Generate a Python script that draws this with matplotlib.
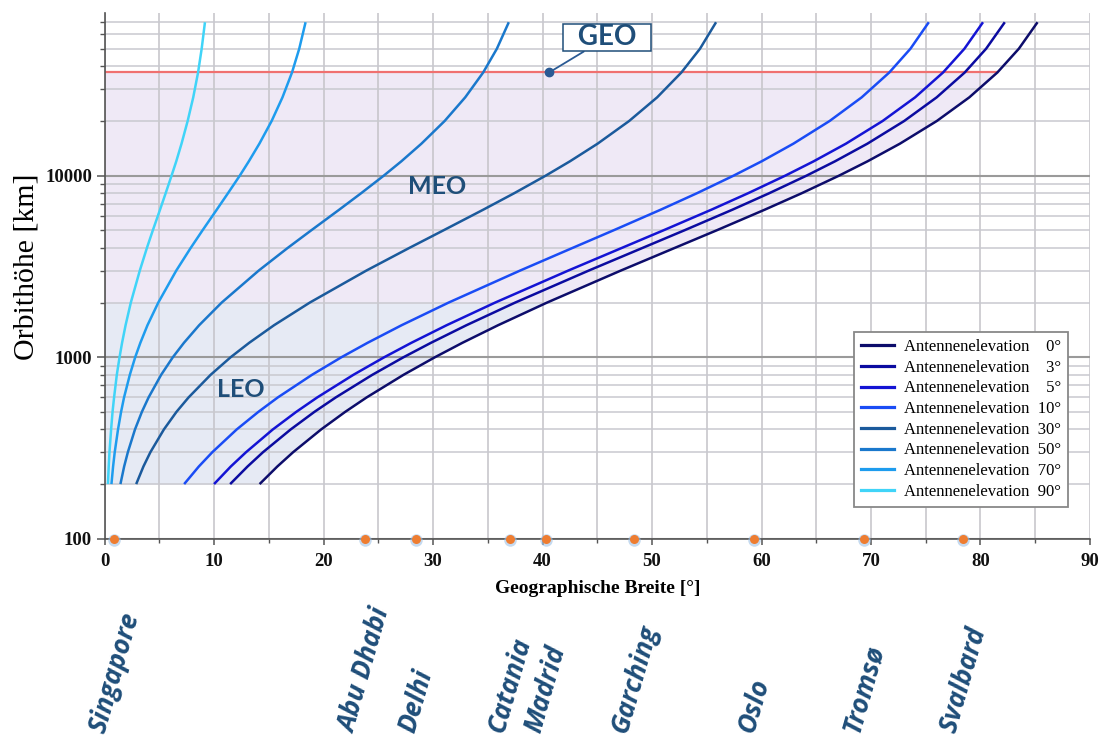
import numpy as np
import matplotlib
matplotlib.use('Agg')
import matplotlib.pyplot as plt
from matplotlib.lines import Line2D
from matplotlib import transforms
from matplotlib.ticker import MultipleLocator, LogLocator, NullFormatter

# orbit altitude [km] and the latitude reached for each antenna elevation
alt_km = [200, 250, 300, 400, 500, 600, 800, 1000, 1200, 1500, 2000, 3000, 4000, 5000,
          6500, 8000, 10000, 12000, 15000, 20000, 27000, 37000, 50000, 70000]
geo_km = 37000
leo_top = 2000

lat_el0  = [14.16, 15.78, 17.23, 19.78, 21.98, 23.93, 27.31, 30.18, 32.68, 35.94, 40.42, 47.15,
            52.08, 55.91, 60.31, 63.67, 67.08, 69.69, 72.64, 76.01, 78.98, 81.54, 83.50, 85.21]
lat_el3  = [11.47, 13.06, 14.48, 17.00, 19.17, 21.11, 24.46, 27.31, 29.81, 33.05, 37.51, 44.22,
            49.14, 52.96, 57.36, 60.70, 64.11, 66.72, 69.67, 73.03, 76.00, 78.56, 80.51, 82.22]
lat_el5  = [10.00, 11.53, 12.93, 15.37, 17.51, 19.42, 22.73, 25.55, 28.02, 31.24, 35.68, 42.35,
            47.25, 51.05, 55.44, 58.77, 62.17, 64.77, 67.71, 71.06, 74.03, 76.58, 78.53, 80.23]
lat_el10 = [7.27, 8.61, 9.85, 12.07, 14.05, 15.82, 18.95, 21.64, 24.02, 27.13, 31.43, 37.95,
            42.75, 46.49, 50.81, 54.10, 57.45, 60.02, 62.91, 66.22, 69.15, 71.67, 73.60, 75.28]
lat_el30 = [2.89, 3.55, 4.19, 5.42, 6.57, 7.67, 9.69, 11.52, 13.21, 15.48, 18.75, 23.91,
            27.84, 30.96, 34.60, 37.41, 40.29, 42.51, 45.03, 47.91, 50.47, 52.68, 54.38, 55.85]
lat_el50 = [1.45, 1.79, 2.13, 2.78, 3.41, 4.02, 5.17, 6.24, 7.25, 8.64, 10.70, 14.08,
            16.73, 18.88, 21.44, 23.43, 25.50, 27.11, 28.94, 31.06, 32.94, 34.58, 35.83, 36.92]
lat_el70 = [0.63, 0.78, 0.93, 1.23, 1.51, 1.78, 2.31, 2.80, 3.27, 3.92, 4.91, 6.55,
            7.87, 8.95, 10.25, 11.27, 12.35, 13.18, 14.14, 15.26, 16.25, 17.12, 17.78, 18.36]
lat_el90 = [0.31, 0.38, 0.45, 0.60, 0.73, 0.87, 1.12, 1.37, 1.60, 1.92, 2.40, 3.22,
            3.87, 4.41, 5.07, 5.58, 6.12, 6.55, 7.03, 7.59, 8.10, 8.54, 8.87, 9.17]

elevations = [0, 3, 5, 10, 30, 50, 70, 90]
curves = [lat_el0, lat_el3, lat_el5, lat_el10, lat_el30, lat_el50, lat_el70, lat_el90]
colors = ['#0d0d6b', '#0b0ba0', '#1414d4', '#1a4cf5', '#1b5a9c', '#1a78cc', '#1e9cee', '#40d4f8']

cities = ['Singapore', 'Abu Dhabi', 'Delhi', 'Catania', 'Madrid', 'Garching', 'Oslo', 'Tromsø', 'Svalbard']
city_lat = [0.9, 23.8, 28.4, 37.0, 40.3, 48.4, 59.3, 69.4, 78.4]

geo_marker_lat = 40.6
dark_blue = '#1f4e79'
serif = 'Liberation Serif'

fig = plt.figure(figsize=(11.04, 7.38), dpi=100)
ax = fig.add_axes([0.0947, 0.270, 0.8926, 0.7128])

# coverage areas left of the 0 deg curve
i_leo = alt_km.index(leo_top)
i_geo = alt_km.index(geo_km)
ax.fill_betweenx(alt_km[:i_leo + 1], 0, lat_el0[:i_leo + 1], color='#e6eaf4', lw=0, zorder=0.2)
ax.fill_betweenx(alt_km[i_leo:i_geo + 1], 0, lat_el0[i_leo:i_geo + 1], color='#efe9f6', lw=0, zorder=0.2)
ax.plot([0, lat_el0[i_geo]], [geo_km, geo_km], color='#f07070', lw=1.6, zorder=1.5)

for lat, c in zip(curves, colors):
    ax.plot(lat, alt_km, color=c, lw=1.8, zorder=2, solid_capstyle='butt', solid_joinstyle='round')

ax.set_yscale('log')
ax.set_xlim(0, 90)
ax.set_ylim(100, 79000)

ax.set_yticks([100, 1000, 10000], labels=['100', '1000', '10000'])
ax.yaxis.set_minor_locator(LogLocator(base=10, subs=np.arange(2, 10)))
ax.yaxis.set_minor_formatter(NullFormatter())
ax.xaxis.set_major_locator(MultipleLocator(10))
ax.xaxis.set_minor_locator(MultipleLocator(5))

ax.set_axisbelow(True)
ax.grid(axis='y', which='major', color='#9a9a9a', lw=1.5)
ax.grid(axis='y', which='minor', color='#c9c9cf', lw=1.1)
ax.grid(axis='x', which='both', color='#c4c2c8', lw=1.1)
ax.xaxis.get_gridlines()[-1].set_visible(False)

for s in ['top', 'right']:
    ax.spines[s].set_visible(False)
for s in ['left', 'bottom']:
    ax.spines[s].set_color('#555555')
    ax.spines[s].set_linewidth(1.2)

ax.tick_params(axis='both', which='major', colors='#555555', labelcolor='#111111', width=1.1)
ax.tick_params(axis='y', which='major', length=6, pad=3)
ax.tick_params(axis='y', which='minor', length=3.5, width=1.0, colors='#555555')
ax.tick_params(axis='x', which='major', length=4.5, pad=6)
ax.tick_params(axis='x', which='minor', length=3, width=1.0, colors='#555555')
for lab in ax.get_xticklabels() + ax.get_yticklabels():
    lab.set_fontfamily(serif)
    lab.set_fontweight('bold')
    lab.set_fontsize(13.5)

ax.set_ylabel('Orbithöhe [km]', family=serif, fontsize=21.5)
ax.yaxis.set_label_coords(-0.066, 0.517)
ax.set_xlabel('Geographische Breite [°]', family=serif, fontsize=14, fontweight='bold', labelpad=7)

# orbit region labels
ax.text(30.4, 8660, 'MEO', family='Lato', fontweight='bold', fontsize=18, color=dark_blue,
        ha='center', va='center', zorder=4)
ax.text(12.4, 665, 'LEO', family='Lato', fontweight='bold', fontsize=18, color=dark_blue,
        ha='center', va='center', zorder=4)
ax.annotate('\u2002GEO\u2002', xy=(geo_marker_lat, geo_km), xytext=(45.9, 57700),
            family=['Lato', 'DejaVu Sans'], fontweight='bold', fontsize=20, color=dark_blue,
            ha='center', va='center', zorder=5,
            bbox=dict(boxstyle='square,pad=0.02', fc='white', ec=dark_blue, lw=1.1),
            arrowprops=dict(arrowstyle='-', color='#2a5a94', lw=1.3, shrinkA=0, shrinkB=0))
ax.plot(geo_marker_lat, geo_km, 'o', color='#2a5a94', ms=6, zorder=6)

# ground stations on the x axis
glow = transforms.offset_copy(ax.transData, fig=fig, x=0, y=-1.5, units='dots')
ax.plot(city_lat, [100] * len(city_lat), 'o', color='#9fc2e6', alpha=0.6, ms=9,
        mec='none', transform=glow, clip_on=False, zorder=6)
ax.plot(city_lat, [100] * len(city_lat), 'o', color='#ee7d31', ms=6.5, mec='none',
        clip_on=False, zorder=7)

trans = transforms.blended_transform_factory(ax.transData, fig.transFigure)
for name, lat in zip(cities, city_lat):
    ax.text(lat, 0.003, name, transform=trans, rotation=74, ha='center', va='bottom',
            family='Open Sans', fontstyle='italic', fontweight='bold', fontsize=19,
            color=dark_blue, clip_on=False)

handles = []
for e, c in zip(elevations, colors):
    num = ('%2d' % e).replace(' ', '\u2007')
    handles.append(Line2D([], [], color=c, lw=2.3, label='Antennenelevation\u2007' + num + '°'))
leg = ax.legend(handles=handles, loc='lower right', bbox_to_anchor=(0.978, 0.06),
                prop={'family': serif, 'size': 12}, fancybox=False, framealpha=1,
                edgecolor='#888888', labelspacing=0.28, borderpad=0.45,
                handlelength=2.0, handletextpad=0.55, borderaxespad=0)
leg.get_frame().set_linewidth(1.3)
leg.set_zorder(8)

fig.savefig('out.png', dpi=100)
